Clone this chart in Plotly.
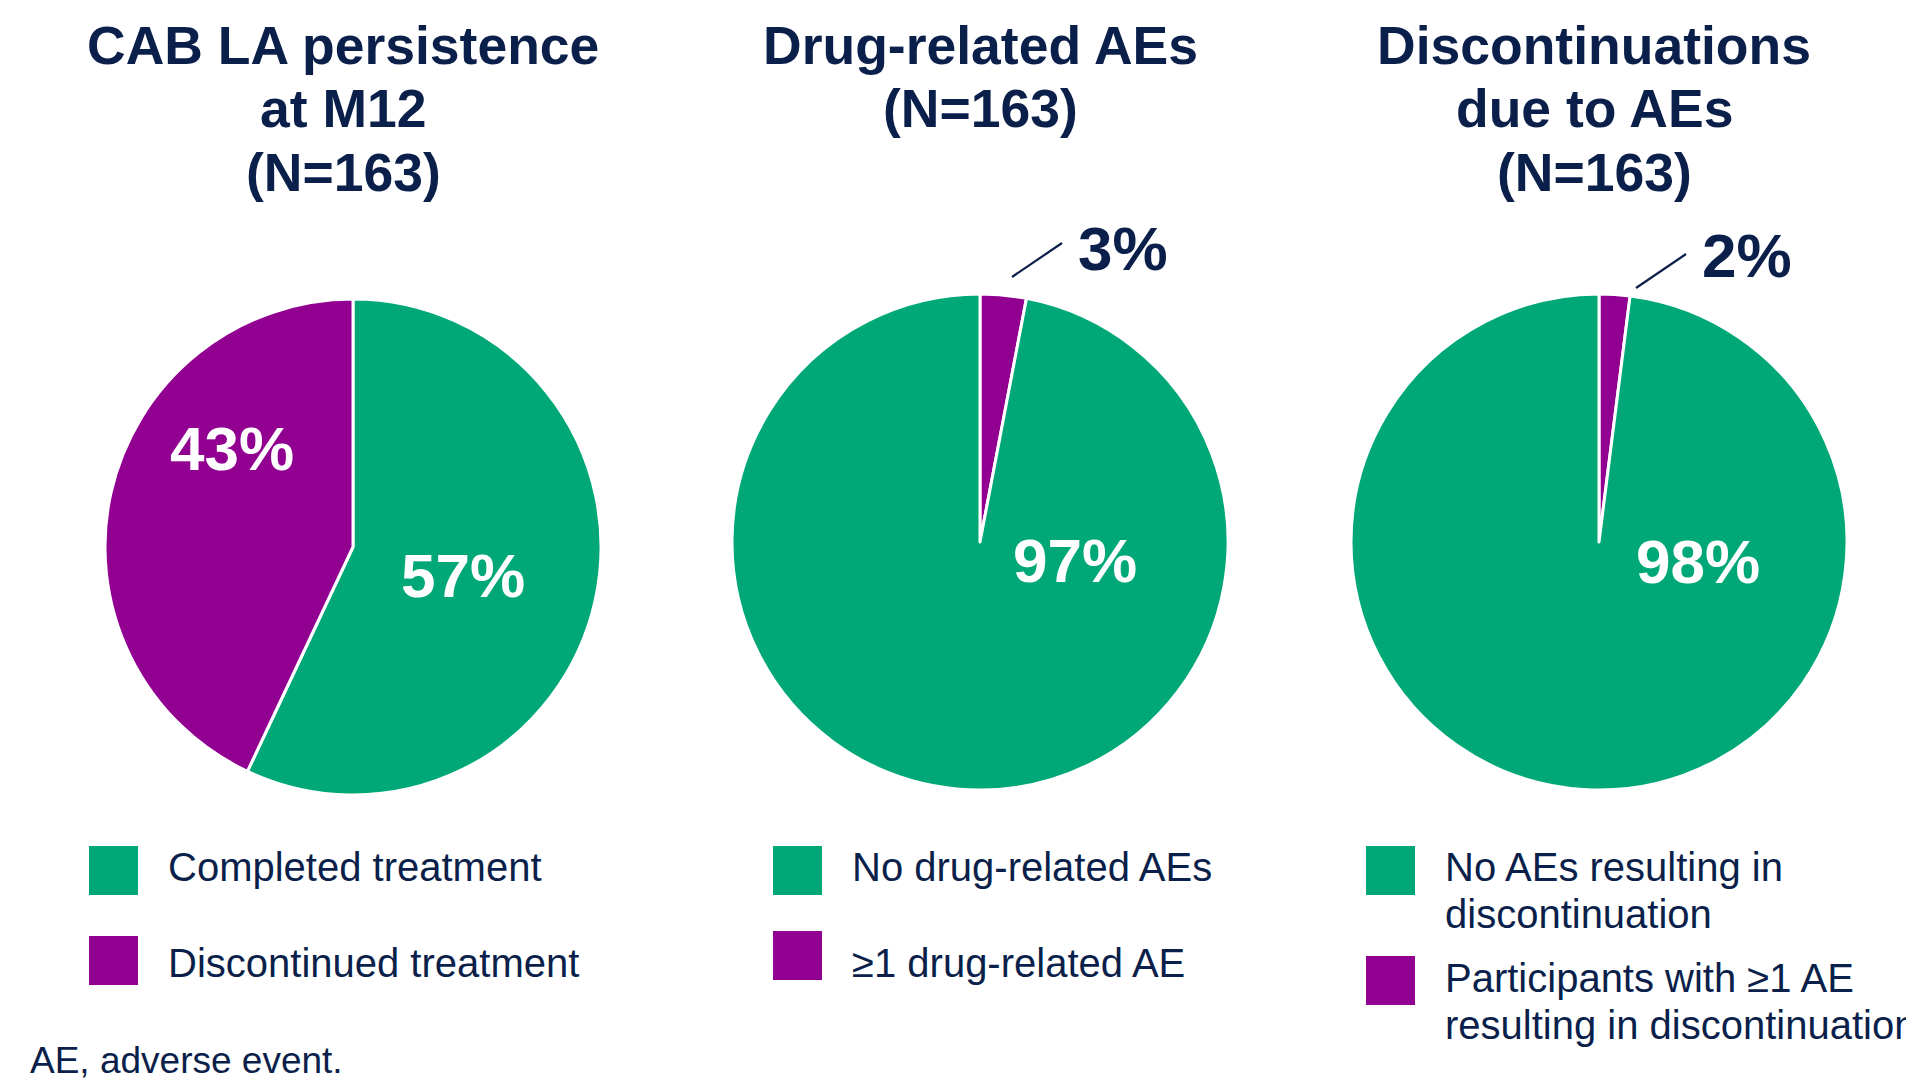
import plotly.graph_objects as go

W, H = 1914, 1088
OFF = 8  # page body margin: figure starts 8px from window corner

# ---------------- data ----------------
titles = [
    ["CAB LA persistence", "at M12", "(N=163)"],
    ["Drug-related AEs", "(N=163)"],
    ["Discontinuations", "due to AEs", "(N=163)"],
]

# slice order as drawn clockwise from 12 o'clock
pie1_labels = ["Completed treatment", "Discontinued treatment"]
pie1_values = [57, 43]
pie2_labels = ["≥1 drug-related AE", "No drug-related AEs"]
pie2_values = [3, 97]
pie3_labels = ["Participants with ≥1 AE resulting in discontinuation",
               "No AEs resulting in discontinuation"]
pie3_values = [2, 98]

# legend entries (green first, purple second), wrapped as in the slide
legend1 = [["Completed treatment"], ["Discontinued treatment"]]
legend2 = [["No drug-related AEs"], ["≥1 drug-related AE"]]
legend3 = [["No AEs resulting in", "discontinuation"],
           ["Participants with ≥1 AE", "resulting in discontinuation"]]

footnote = "AE, adverse event."

# ---------------- style ----------------
GREEN = "#00A878"
PURPLE = "#920092"
NAVY = "#0B1F4B"
FONT = "Arial, 'Liberation Sans', sans-serif"


def px(x):
    return (x - OFF) / W


def py(y):
    return 1 - (y - OFF) / H


fig = go.Figure()

pies = [
    dict(labels=pie1_labels, values=pie1_values, colors=[GREEN, PURPLE], c=(353, 547)),
    dict(labels=pie2_labels, values=pie2_values, colors=[PURPLE, GREEN], c=(980, 542)),
    dict(labels=pie3_labels, values=pie3_values, colors=[PURPLE, GREEN], c=(1599, 542)),
]
R = 248
for p in pies:
    cx, cy = p["c"]
    fig.add_trace(go.Pie(
        labels=p["labels"], values=p["values"],
        marker=dict(colors=p["colors"], line=dict(color="white", width=3)),
        sort=False, direction="clockwise", rotation=0,
        textinfo="none", showlegend=False,
        domain=dict(x=[px(cx - R), px(cx + R)], y=[py(cy + R), py(cy - R)]),
    ))

ann = []
shapes = []

# titles
title_x = [343, 980, 1594]
for tx, lines in zip(title_x, titles):
    for i, line in enumerate(lines):
        ann.append(dict(x=px(tx), y=py(46 + 63 * i), xref="paper", yref="paper",
                        text=f"<b>{line}</b>", showarrow=False,
                        xanchor="center", yanchor="middle",
                        font=dict(family=FONT, size=53.5, color=NAVY)))

# percentage labels
def pct(v):
    return f"<b>{v}%</b>"

ann.append(dict(x=px(463), y=py(575), text=pct(pie1_values[0]), color="white"))
ann.append(dict(x=px(232), y=py(448), text=pct(pie1_values[1]), color="white"))
ann.append(dict(x=px(1075), y=py(560), text=pct(pie2_values[1]), color="white"))
ann.append(dict(x=px(1123), y=py(248), text=pct(pie2_values[0]), color=NAVY))
ann.append(dict(x=px(1698), y=py(561), text=pct(pie3_values[1]), color="white"))
ann.append(dict(x=px(1747), y=py(256), text=pct(pie3_values[0]), color=NAVY))
for a in ann[-6:]:
    col = a.pop("color")
    a.update(xref="paper", yref="paper", showarrow=False, xanchor="center",
             yanchor="middle", font=dict(family=FONT, size=62, color=col))

# leader lines
for (x0, y0, x1, y1) in [(1012, 277, 1062, 243), (1636, 288, 1686, 254)]:
    shapes.append(dict(type="line", xref="paper", yref="paper",
                       x0=px(x0), y0=py(y0), x1=px(x1), y1=py(y1),
                       line=dict(color=NAVY, width=2.2)))

# legends
legends = [
    dict(items=legend1, sx=89, tx=166, sq_y=[846, 936], ty=[[867], [963]]),
    dict(items=legend2, sx=773, tx=850, sq_y=[846, 931], ty=[[867], [963]]),
    dict(items=legend3, sx=1366, tx=1443, sq_y=[846, 956], ty=[[867, 914], [978, 1025]]),
]
for lg in legends:
    for k, (lines, col) in enumerate(zip(lg["items"], [GREEN, PURPLE])):
        y0 = lg["sq_y"][k]
        shapes.append(dict(type="rect", xref="paper", yref="paper",
                           x0=px(lg["sx"]), x1=px(lg["sx"] + 49),
                           y0=py(y0 + 49), y1=py(y0),
                           fillcolor=col, line=dict(width=0)))
        for line, ly in zip(lines, lg["ty"][k]):
            ann.append(dict(x=px(lg["tx"]), y=py(ly), xref="paper", yref="paper",
                            text=line, showarrow=False, xanchor="left", yanchor="middle",
                            font=dict(family=FONT, size=40, color=NAVY)))

# footnote
ann.append(dict(x=px(28), y=py(1060), xref="paper", yref="paper", text=footnote,
                showarrow=False, xanchor="left", yanchor="middle",
                font=dict(family=FONT, size=37, color=NAVY)))

fig.update_layout(
    width=W, height=H, margin=dict(l=0, r=0, t=0, b=0),
    paper_bgcolor="white", plot_bgcolor="white",
    annotations=ann, shapes=shapes,
    font=dict(family=FONT, color=NAVY),
)

fig.write_html("out.html")
